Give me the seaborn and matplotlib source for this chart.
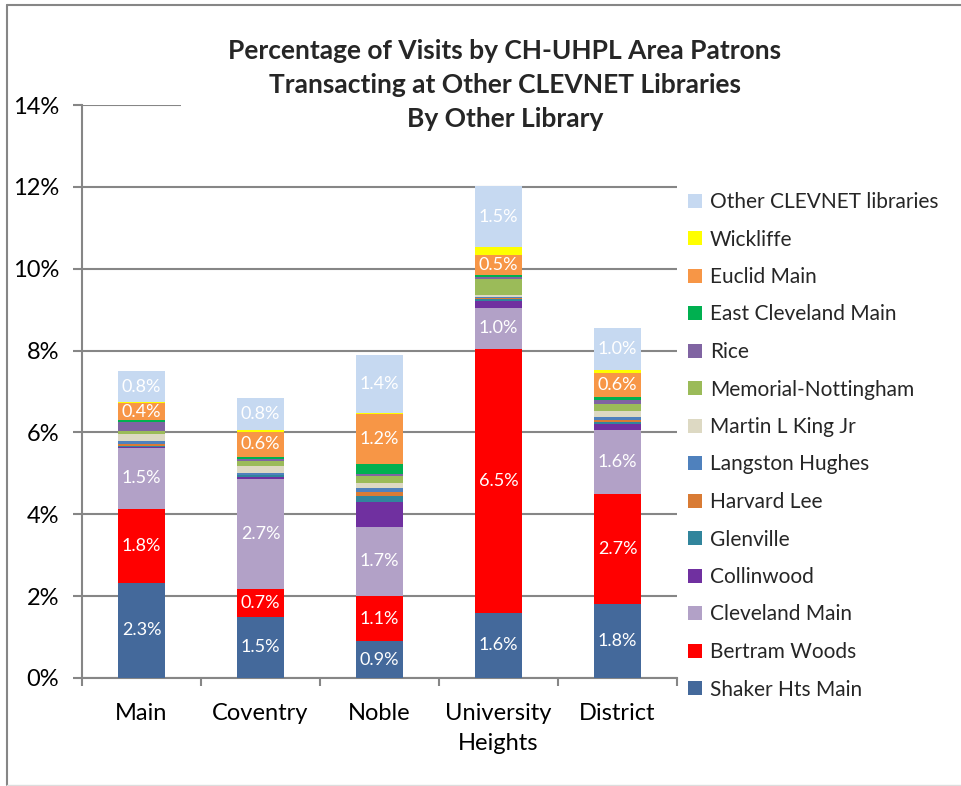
import numpy as np
import matplotlib
matplotlib.use("Agg")
import matplotlib.pyplot as plt
import seaborn as sns
from matplotlib.patches import Patch
from matplotlib.lines import Line2D
from matplotlib.ticker import FuncFormatter, FixedLocator

# branches (x axis)
branches = ["Main", "Coventry", "Noble", "University\nHeights", "District"]

# series, bottom to top, values in % of visits
series = ["Shaker Hts Main", "Bertram Woods", "Cleveland Main", "Collinwood",
          "Glenville", "Harvard Lee", "Langston Hughes", "Martin L King Jr",
          "Memorial-Nottingham", "Rice", "East Cleveland Main", "Euclid Main",
          "Wickliffe", "Other CLEVNET libraries"]

shaker = [2.33, 1.50, 0.90, 1.60, 1.80]
bertram = [1.80, 0.67, 1.10, 6.45, 2.70]
cleveland = [1.50, 2.70, 1.70, 1.00, 1.56]
collinwood = [0.02, 0.05, 0.60, 0.17, 0.15]
glenville = [0.02, 0.03, 0.15, 0.03, 0.05]
harvard = [0.04, 0.02, 0.10, 0.03, 0.05]
langston = [0.08, 0.04, 0.10, 0.03, 0.06]
mlk = [0.17, 0.17, 0.12, 0.04, 0.15]
memorial = [0.08, 0.12, 0.17, 0.40, 0.17]
rice = [0.22, 0.05, 0.05, 0.04, 0.10]
east_cle = [0.05, 0.05, 0.25, 0.05, 0.07]
euclid = [0.40, 0.62, 1.20, 0.50, 0.60]
wickliffe = [0.03, 0.03, 0.03, 0.20, 0.07]
other = [0.76, 0.80, 1.43, 1.47, 1.02]

colors = ["#44699B", "#FF0000", "#B2A1C7", "#7030A0", "#31859C", "#D97B34",
          "#4F81BD", "#DDD9C3", "#9BBB59", "#8064A2", "#00B050", "#F79646",
          "#FFFF00", "#C6D9F1"]

labelled = {"Shaker Hts Main", "Bertram Woods", "Cleveland Main",
            "Euclid Main", "Other CLEVNET libraries"}

values = np.array([shaker, bertram, cleveland, collinwood, glenville, harvard,
                   langston, mlk, memorial, rice, east_cle, euclid, wickliffe,
                   other])
cum = values.cumsum(axis=0)

sns.set_theme(style="white")
plt.rcParams['font.family'] = ['Lato', 'DejaVu Sans']

fig = plt.figure(figsize=(9.62, 7.86), dpi=100)
ax = fig.add_axes([82 / 962, 1 - 678 / 786, (677 - 82) / 962, (678 - 105) / 786])

# stacked bars: draw cumulative totals from the top down
for i in range(len(series) - 1, -1, -1):
    sns.barplot(x=branches, y=cum[i], color=colors[i], saturation=1,
                width=0.40, linewidth=0, ax=ax, zorder=3)

# segment labels
for i, name in enumerate(series):
    if name not in labelled:
        continue
    for j in range(len(branches)):
        mid = cum[i, j] - values[i, j] / 2
        ax.text(j, mid, f"{values[i, j]:.1f}%", ha="center", va="center",
                color="white", fontsize=13, zorder=5)

gray = "#868686"
ax.set_ylim(0, 14)
ax.set_xlim(-0.5, 4.5)
ax.yaxis.set_major_locator(FixedLocator(np.arange(0, 15, 2)))
ax.yaxis.set_major_formatter(FuncFormatter(lambda v, p: f"{v:.0f}%"))
ax.yaxis.grid(True, color=gray, lw=1.5, zorder=0)
ax.set_axisbelow(True)
for s in ["top", "right"]:
    ax.spines[s].set_visible(False)
for s in ["left", "bottom"]:
    ax.spines[s].set_color(gray)
    ax.spines[s].set_linewidth(1.5)

ax.tick_params(axis="y", direction="out", length=6.5, width=1.5, color=gray,
               labelsize=17, pad=10, left=True, labelcolor="black")
ax.set_xticks(range(len(branches)))
ax.set_xticklabels(branches, linespacing=1.55)
ax.tick_params(axis="x", which="major", length=0, pad=18, labelsize=17,
               labelcolor="black")
ax.set_xticks(np.arange(-0.5, 5, 1), minor=True)
ax.tick_params(axis="x", which="minor", direction="out", length=6, width=1.5,
               color=gray, bottom=True)
ax.set_xlabel("")
ax.set_ylabel("")

# legend (top entry = last series)
handles = [Patch(facecolor=c, edgecolor="none") for c in colors][::-1]
fig.legend(handles, series[::-1], loc="upper left",
           bbox_to_anchor=(688 / 962, 1 - 192 / 786), frameon=False,
           fontsize=15, handlelength=0.65, handleheight=0.65,
           handletextpad=0.4, labelspacing=0.84, borderpad=0,
           borderaxespad=0)

# title with white box hiding the top gridline
fig.text(505 / 962, 1 - 85 / 786,
         "Percentage of Visits by CH-UHPL Area Patrons\n"
         "Transacting at Other CLEVNET Libraries\nBy Other Library",
         ha="center", va="center", fontsize=19, fontweight="bold",
         linespacing=1.5,
         bbox=dict(facecolor="white", edgecolor="none", pad=34), zorder=10)

# chart border
fig.add_artist(Line2D([7 / 962, 7 / 962], [1 - 5 / 786, 1 - 785 / 786],
                      color=gray, lw=1.5, zorder=20))
fig.add_artist(Line2D([7 / 962, 1], [1 - 5 / 786, 1 - 5 / 786],
                      color=gray, lw=1.5, zorder=20))
fig.add_artist(Line2D([7 / 962, 1], [1 - 785 / 786, 1 - 785 / 786],
                      color="#DDDDDD", lw=1, zorder=20))

fig.savefig("out.png", dpi=100)
